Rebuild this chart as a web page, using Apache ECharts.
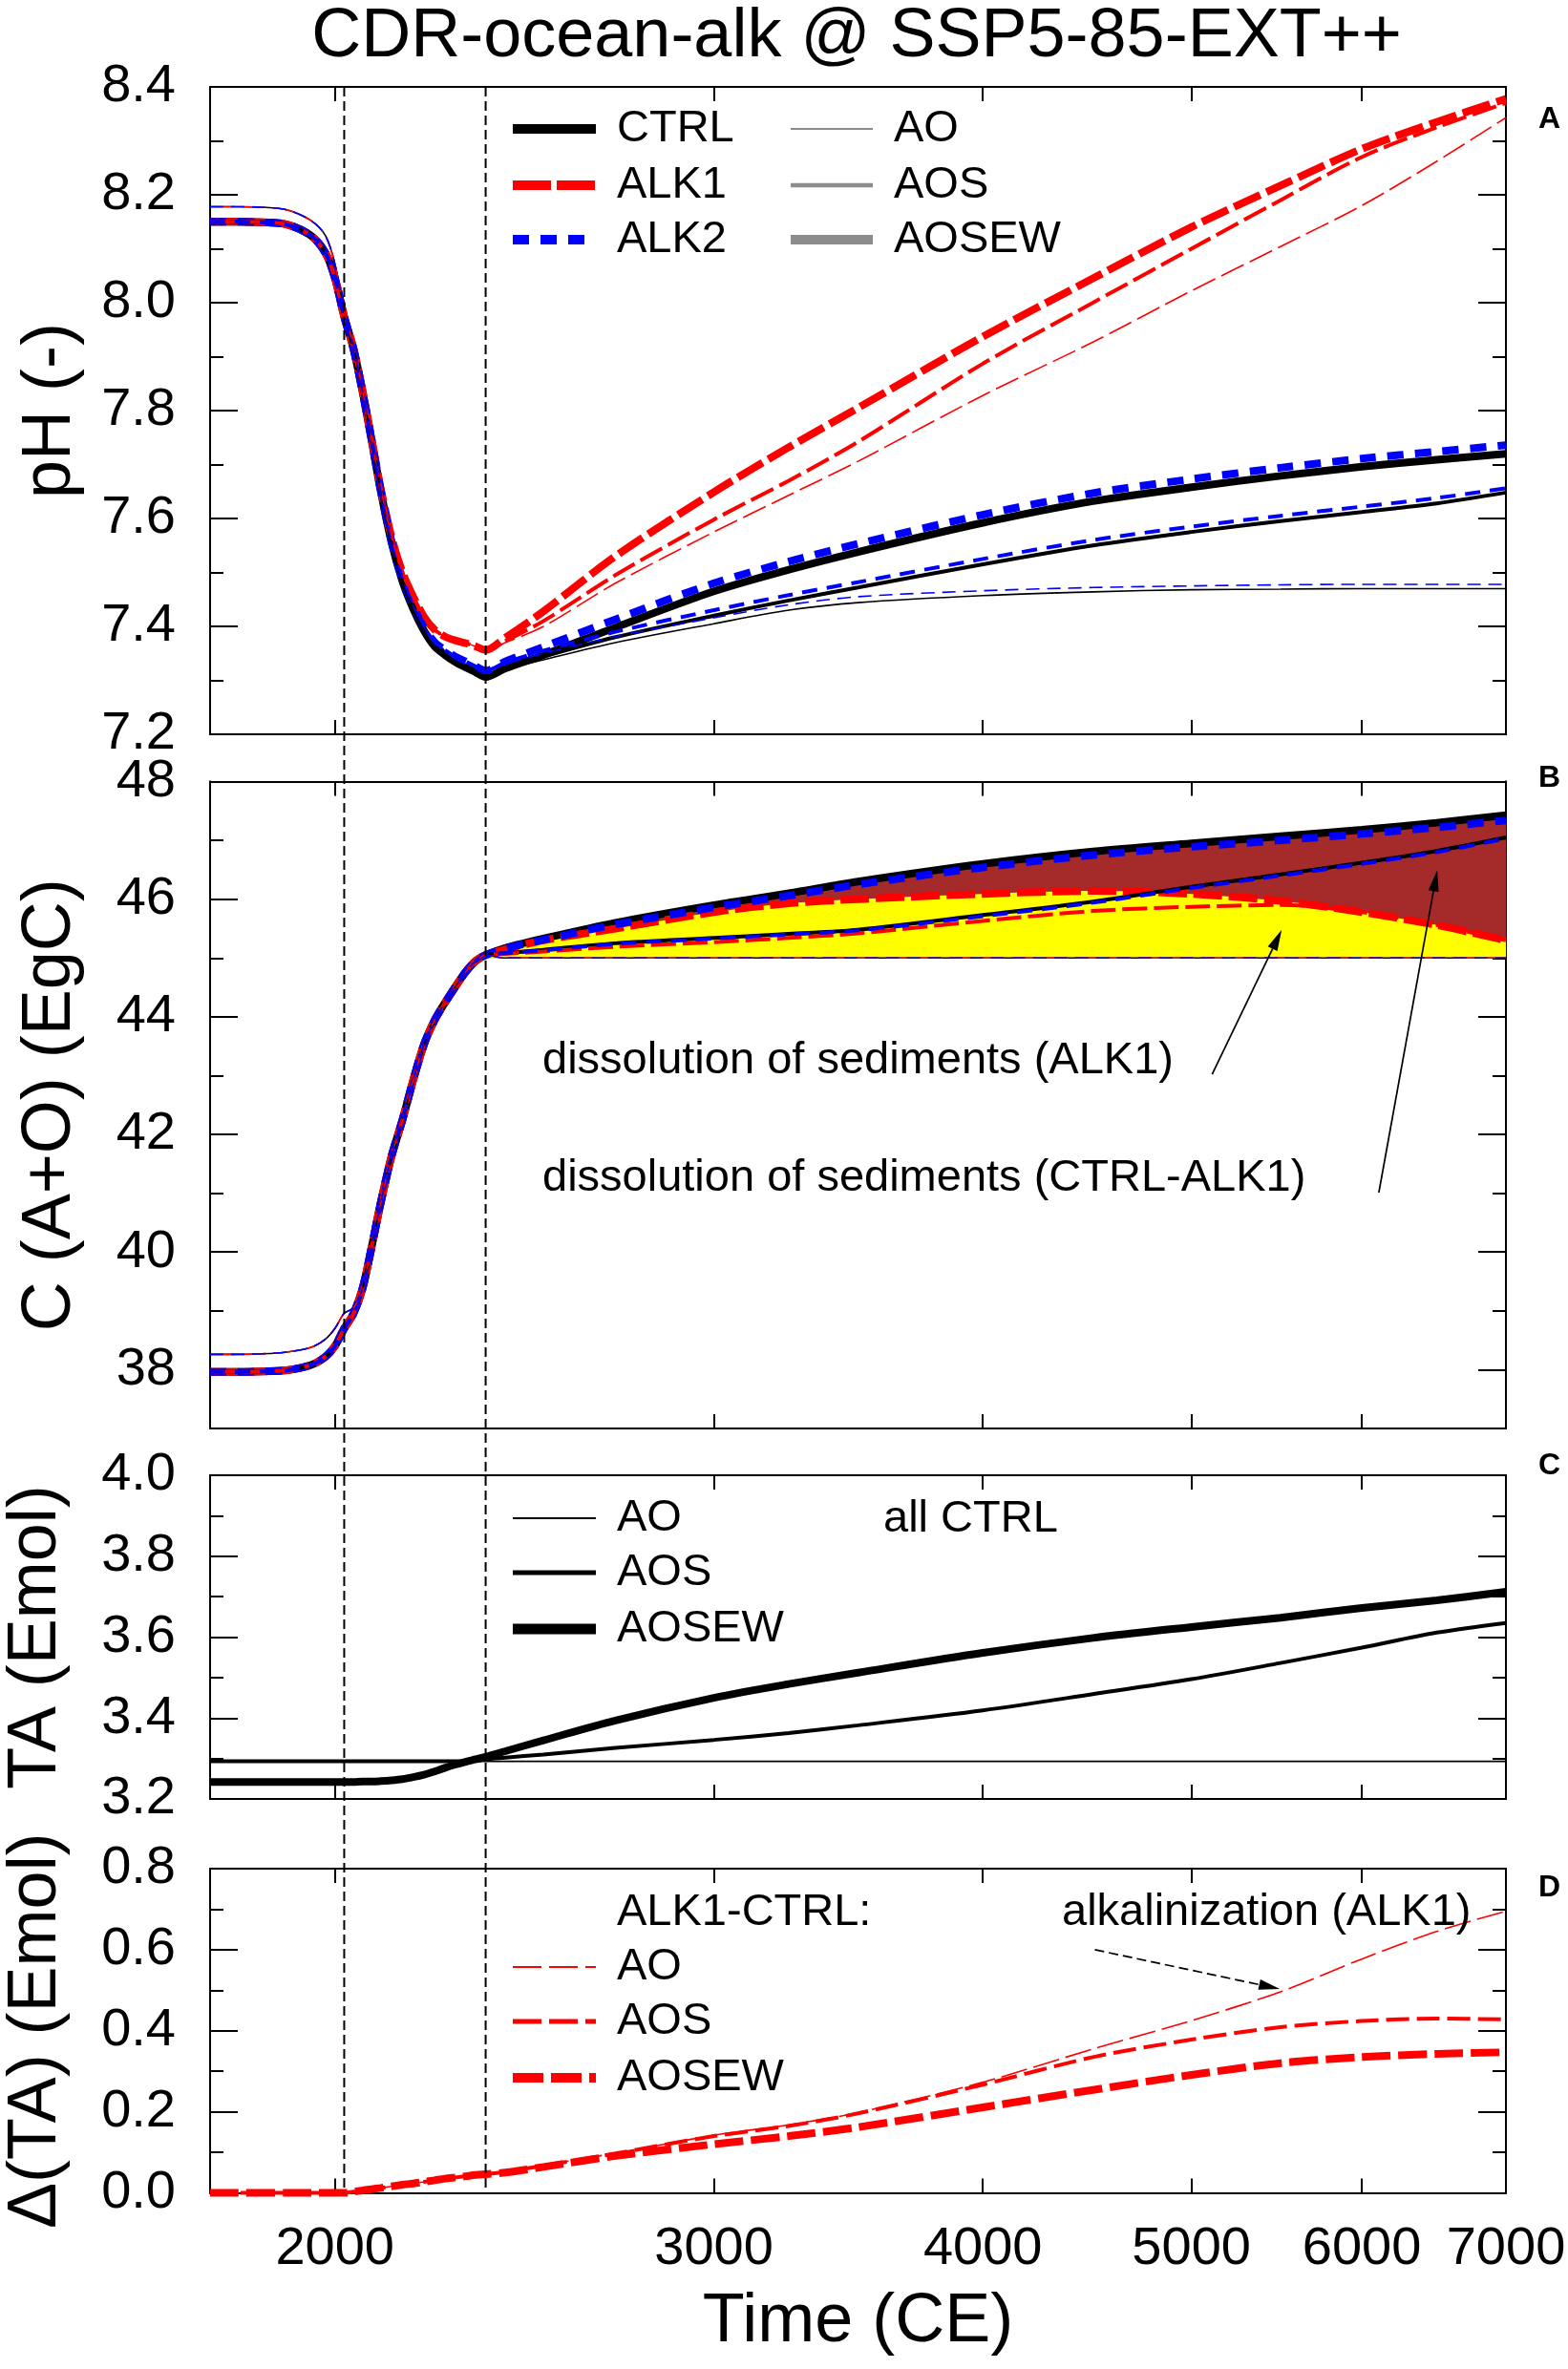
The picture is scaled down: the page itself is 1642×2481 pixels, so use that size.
<!DOCTYPE html>
<html><head><meta charset="utf-8">
<script src="https://cdn.jsdelivr.net/npm/echarts@6/dist/echarts.min.js"></script>
<style>html,body{margin:0;padding:0;background:#fff}#c{width:1642px;height:2481px}</style>
</head><body><div id="c"></div>
<script>
// ---------- DATA ----------
const years = [1750,1800,1850,1900,1950,1980,2000,2020,2040,2060,2080,2100,2125,2150,2175,2200,2225,2250,2275,2300,2325,2350,2400,2500,2700,3000,3250,3500,4000,4500,5000,5500,6000,6500,7000];
const markerYears = [2020, 2350];
const xTickValues = [2000,3000,4000,5000,6000];
const xLabelValues = [2000,3000,4000,5000,6000,7000];

// Panel A: pH
const phCtrlAOSEW = [8.150,8.150,8.149,8.145,8.124,8.092,8.046,7.974,7.915,7.835,7.745,7.653,7.555,7.483,7.432,7.392,7.363,7.347,7.334,7.324,7.315,7.306, 7.322,7.347,7.398,7.465,7.505,7.538,7.592,7.632,7.658,7.679,7.696,7.709,7.720];
const phCtrlAOS   = [8.150,8.150,8.149,8.145,8.124,8.092,8.046,7.974,7.915,7.835,7.745,7.653,7.555,7.483,7.432,7.392,7.363,7.347,7.334,7.324,7.315,7.306, 7.322,7.344,7.380,7.420,7.448,7.472,7.515,7.550,7.575,7.595,7.612,7.628,7.648];
const phCtrlAO    = [8.178,8.178,8.177,8.172,8.152,8.124,8.072,7.985,7.920,7.835,7.745,7.653,7.555,7.483,7.432,7.392,7.363,7.347,7.334,7.324,7.315,7.306, 7.320,7.338,7.370,7.405,7.430,7.444,7.457,7.464,7.468,7.469,7.470,7.470,7.470];
const phAlk1AOSEW = [8.150,8.150,8.149,8.145,8.124,8.092,8.046,7.974,7.916,7.837,7.748,7.658,7.565,7.500,7.455,7.418,7.394,7.381,7.374,7.369,7.363,7.356, 7.379,7.428,7.530,7.649,7.732,7.805,7.937,8.045,8.140,8.217,8.285,8.335,8.378];
const phAlk1AOS   = [8.150,8.150,8.149,8.145,8.124,8.092,8.046,7.974,7.916,7.837,7.748,7.658,7.565,7.500,7.455,7.418,7.394,7.381,7.374,7.369,7.363,7.356, 7.373,7.410,7.495,7.598,7.670,7.742,7.887,8.000,8.100,8.190,8.270,8.325,8.370];
const phAlk1AO    = [8.178,8.178,8.177,8.172,8.152,8.124,8.072,7.985,7.921,7.837,7.748,7.658,7.565,7.500,7.455,7.418,7.394,7.381,7.374,7.369,7.363,7.356, 7.370,7.400,7.480,7.575,7.643,7.706,7.828,7.927,8.022,8.104,8.180,8.262,8.343];
const phAlk2AOSEW = [8.150,8.150,8.149,8.145,8.124,8.092,8.046,7.974,7.915,7.835,7.746,7.654,7.557,7.487,7.437,7.398,7.371,7.356,7.344,7.335,7.326,7.318, 7.335,7.362,7.413,7.480,7.520,7.553,7.607,7.647,7.673,7.694,7.711,7.724,7.736];
const phAlk2AOS   = [8.150,8.150,8.149,8.145,8.124,8.092,8.046,7.974,7.915,7.835,7.746,7.654,7.557,7.487,7.437,7.398,7.371,7.356,7.344,7.335,7.326,7.318, 7.333,7.355,7.390,7.430,7.458,7.482,7.525,7.560,7.585,7.605,7.622,7.638,7.656];
const phAlk2AO    = [8.178,8.178,8.177,8.172,8.152,8.124,8.072,7.985,7.920,7.835,7.746,7.654,7.557,7.487,7.437,7.398,7.371,7.356,7.344,7.335,7.326,7.318, 7.330,7.350,7.381,7.416,7.440,7.455,7.466,7.472,7.475,7.477,7.478,7.478,7.478];

// Panel B: C (A+O) in EgC
const cCtrlAOSEW = [37.96,37.96,37.97,37.99,38.08,38.22,38.40,38.70,38.95,39.38,40.08,40.82,41.63,42.25,42.93,43.53,43.94,44.24,44.51,44.76,44.95,45.05, 45.17,45.33,45.60,45.90,46.10,46.30,46.60,46.81,46.95,47.07,47.18,47.30,47.43];
const cCtrlAOS   = [37.96,37.96,37.97,37.99,38.08,38.22,38.40,38.70,38.95,39.38,40.08,40.82,41.63,42.25,42.93,43.53,43.94,44.24,44.51,44.76,44.95,45.05, 45.08,45.14,45.25,45.34,45.41,45.48,45.73,45.96,46.21,46.42,46.62,46.82,47.05];
const cCtrlAO    = [38.26,38.26,38.27,38.30,38.38,38.52,38.70,38.96,39.05,39.38,40.08,40.82,41.63,42.25,42.93,43.53,43.94,44.24,44.51,44.76,44.95,45.05, 45.00,45.00,45.00,45.00,45.00,45.00,45.00,45.00,45.00,45.00,45.00,45.00,45.00];
const cAlk1AOSEW = [37.96,37.96,37.97,37.99,38.08,38.22,38.40,38.70,38.95,39.38,40.08,40.82,41.63,42.25,42.93,43.53,43.94,44.24,44.51,44.76,44.95,45.05, 45.15,45.30,45.50,45.78,45.93,46.00,46.09,46.14,46.09,45.97,45.78,45.56,45.30];
const cAlk1AOS   = [37.96,37.96,37.97,37.99,38.08,38.22,38.40,38.70,38.95,39.38,40.08,40.82,41.63,42.25,42.93,43.53,43.94,44.24,44.51,44.76,44.95,45.05, 45.07,45.11,45.19,45.27,45.34,45.42,45.63,45.80,45.87,45.90,45.78,45.56,45.30];
const cAlk1AO    = [38.26,38.26,38.27,38.30,38.38,38.52,38.70,38.96,39.05,39.38,40.08,40.82,41.63,42.25,42.93,43.53,43.94,44.24,44.51,44.76,44.95,45.05, 45.00,45.00,45.00,45.00,45.00,45.00,45.00,45.00,45.00,45.00,45.00,45.00,45.00];
const cAlk2AOSEW = [37.96,37.96,37.97,37.99,38.08,38.22,38.40,38.70,38.95,39.38,40.08,40.82,41.63,42.25,42.93,43.53,43.94,44.24,44.51,44.76,44.95,45.05, 45.16,45.31,45.57,45.86,46.06,46.25,46.54,46.75,46.89,47.00,47.11,47.22,47.34];
const cAlk2AOS   = [37.96,37.96,37.97,37.99,38.08,38.22,38.40,38.70,38.95,39.38,40.08,40.82,41.63,42.25,42.93,43.53,43.94,44.24,44.51,44.76,44.95,45.05, 45.08,45.13,45.24,45.33,45.40,45.47,45.71,45.94,46.19,46.40,46.60,46.80,47.03];
const cAlk2AO    = [38.26,38.26,38.27,38.30,38.38,38.52,38.70,38.96,39.05,39.38,40.08,40.82,41.63,42.25,42.93,43.53,43.94,44.24,44.51,44.76,44.95,45.05, 45.00,45.00,45.00,45.00,45.00,45.00,45.00,45.00,45.00,45.00,45.00,45.00,45.00];
const cFillBase = 45.0;
const fillStartIndex = 21; // year 2350

// Panel C: TA (Emol), all CTRL
const taAO    = [3.293,3.293,3.293,3.293,3.293,3.293,3.293,3.293,3.293,3.293,3.293,3.293,3.293,3.293,3.293,3.293,3.293,3.293,3.293,3.293,3.293,3.293, 3.293,3.293,3.293,3.293,3.293,3.293,3.293,3.293,3.293,3.293,3.293,3.293,3.293];
const taAOS   = [3.293,3.293,3.293,3.293,3.293,3.293,3.293,3.293,3.293,3.293,3.293,3.293,3.293,3.293,3.293,3.293,3.293,3.293,3.293,3.293,3.294,3.298, 3.302,3.310,3.326,3.346,3.363,3.382,3.419,3.459,3.496,3.536,3.574,3.611,3.635];
const taAOSEW = [3.242,3.242,3.242,3.242,3.242,3.242,3.242,3.242,3.242,3.243,3.243,3.244,3.246,3.249,3.254,3.260,3.268,3.277,3.285,3.292,3.298,3.304, 3.318,3.345,3.394,3.450,3.484,3.512,3.561,3.598,3.625,3.648,3.672,3.691,3.712];

// Panel D: delta TA (ALK1 - CTRL), Emol
const dtaAO    = [0,0,0,0,0,0,0,0,0.003,0.006,0.009,0.012,0.016,0.020,0.023,0.027,0.031,0.035,0.038,0.041,0.044,0.046, 0.052,0.068,0.098,0.142,0.168,0.198,0.273,0.355,0.425,0.496,0.577,0.645,0.695];
const dtaAOS   = [0,0,0,0,0,0,0,0,0.003,0.006,0.009,0.012,0.016,0.020,0.023,0.027,0.031,0.035,0.038,0.041,0.044,0.046, 0.052,0.067,0.097,0.140,0.165,0.196,0.267,0.335,0.378,0.409,0.424,0.430,0.428];
const dtaAOSEW = [0,0,0,0,0,0,0,0,0.003,0.006,0.009,0.012,0.016,0.020,0.023,0.027,0.031,0.035,0.038,0.041,0.044,0.046, 0.050,0.064,0.091,0.120,0.140,0.162,0.211,0.254,0.291,0.320,0.335,0.343,0.347];

// axis tick / label values
const phMajor = [7.2,7.4,7.6,7.8,8.0,8.2,8.4], phMinor = [7.3,7.5,7.7,7.9,8.1,8.3];
const cMajor = [38,40,42,44,46,48], cMinor = [39,41,43,45,47];
const taMajor = [3.2,3.4,3.6,3.8,4.0], taMinor = [3.3,3.5,3.7,3.9];
const dtaMajor = [0.0,0.2,0.4,0.6,0.8], dtaMinor = [0.1,0.3,0.5,0.7];

// ---------- CHART ----------
const F = '"Liberation Sans", Arial, Helvetica, sans-serif';
const RED = '#ff0000', BLUE = '#0000ff', BLACK = '#000000', GRAY = '#8c8c8c';
const W_THICK = 8, W_MED = 4, W_THIN = 1.6;
const TICK_FONT = 56;

const grids = [
  {left:220, top:91, width:1357, height:678, outerBoundsMode:'none', containLabel:false},
  {left:220, top:818.5, width:1357, height:677.5, outerBoundsMode:'none', containLabel:false},
  {left:220, top:1545, width:1357, height:339, outerBoundsMode:'none', containLabel:false},
  {left:220, top:1957, width:1357, height:339.5, outerBoundsMode:'none', containLabel:false}
];
const panels = [
  {min:7.2, max:8.4, major:phMajor, minor:phMinor, dec:1, name:'pH (-)', gap:131},
  {min:37, max:48, major:cMajor, minor:cMinor, dec:0, name:'C (A+O) (EgC)', gap:131},
  {min:3.2, max:4.0, major:taMajor, minor:taMinor, dec:1, name:'TA (Emol)', gap:146},
  {min:0, max:0.8, major:dtaMajor, minor:dtaMinor, dec:1, name:'\u0394(TA) (Emol)', gap:146}
];

const xAxes = [], yAxes = [];
const axLine = {show:true, onZero:false, lineStyle:{color:BLACK, width:2}};
for (let g = 0; g < 4; g++) {
  const last = g === 3;
  ['bottom','top'].forEach((pos, k) => {
    xAxes.push({
      type:'log', logBase:10, gridIndex:g, position:pos, min:1750, max:7000,
      axisLine:axLine,
      axisTick:{show:true, inside:true, length:15, customValues:xTickValues, lineStyle:{color:BLACK, width:2}},
      minorTick:{show:false}, splitLine:{show:false}, minorSplitLine:{show:false},
      axisLabel:{show:last && k===0, customValues:xLabelValues, margin:31, fontSize:TICK_FONT, color:BLACK, fontFamily:F,
                 formatter:v => String(Math.round(v))},
      name:(last && k===0) ? 'Time (CE)' : '', nameLocation:'middle', nameGap:100,
      nameTextStyle:{fontSize:72, fontFamily:F, color:BLACK}
    });
  });
  const p = panels[g];
  const mk = (pos, ticks, len, showLab, withName) => ({
    type:'value', gridIndex:g, position:pos, min:p.min, max:p.max,
    axisLine:axLine,
    axisTick:{show:true, inside:true, length:len, customValues:ticks, lineStyle:{color:BLACK, width:2}},
    splitLine:{show:false}, minorTick:{show:false},
    axisLabel:{show:showLab, customValues:p.major, margin:36, fontSize:TICK_FONT, color:BLACK, fontFamily:F,
               formatter:v => Number(v).toFixed(p.dec)},
    name: withName ? p.name : '', nameLocation:'middle', nameGap:p.gap,
    nameTextStyle:{fontSize:72, fontFamily:F, color:BLACK}
  });
  yAxes.push(mk('left', p.major, 29, true, true));
  yAxes.push(mk('left', p.minor, 14, false, false));
  yAxes.push(mk('right', p.major, 29, false, false));
  yAxes.push(mk('right', p.minor, 14, false, false));
}

function pairs(ys, from) {
  const out = [];
  for (let i = from || 0; i < years.length; i++) out.push([years[i], ys[i]]);
  return out;
}
function line(g, name, ys, color, width, dash) {
  return {
    type:'line', name, xAxisIndex:2*g, yAxisIndex:4*g, data:pairs(ys),
    showSymbol:false, symbol:'none', smooth:0.3, clip:false, silent:true,
    lineStyle:{color, width, type:dash || 'solid', cap:'butt'}
  };
}
function fill(g, ys, color) {
  return {
    type:'line', xAxisIndex:2*g, yAxisIndex:4*g, data:pairs(ys, fillStartIndex),
    showSymbol:false, symbol:'none', smooth:0.3, silent:true,
    lineStyle:{width:0, opacity:0}, areaStyle:{color, opacity:1, origin:cFillBase}
  };
}
const DR = {thick:[30,7], med:[26,7], thin:[26,7]};
const DB = {thick:[17,12], med:[16,10], thin:[14,8]};
const DD = {thick:[30,8], med:[24,8], thin:[28,7]};

const series = [
  // Panel A
  line(0,'CTRL AOSEW', phCtrlAOSEW, BLACK, W_THICK),
  line(0,'ALK1 AOSEW', phAlk1AOSEW, RED, W_THICK, DR.thick),
  line(0,'ALK2 AOSEW', phAlk2AOSEW, BLUE, W_THICK, DB.thick),
  line(0,'CTRL AOS', phCtrlAOS, BLACK, W_MED),
  line(0,'ALK1 AOS', phAlk1AOS, RED, W_MED, DR.med),
  line(0,'ALK2 AOS', phAlk2AOS, BLUE, W_MED, DB.med),
  line(0,'CTRL AO', phCtrlAO, BLACK, W_THIN),
  line(0,'ALK1 AO', phAlk1AO, RED, W_THIN, DR.thin),
  line(0,'ALK2 AO', phAlk2AO, BLUE, W_THIN, DB.thin),
  // Panel B fills
  fill(1, cCtrlAOSEW, '#a52a2a'),
  fill(1, cAlk1AOSEW, '#ffff00'),
  // Panel B lines
  line(1,'CTRL AOSEW', cCtrlAOSEW, BLACK, W_THICK),
  line(1,'ALK1 AOSEW', cAlk1AOSEW, RED, W_THICK, DR.thick),
  line(1,'ALK2 AOSEW', cAlk2AOSEW, BLUE, W_THICK, DB.thick),
  line(1,'CTRL AOS', cCtrlAOS, BLACK, W_MED),
  line(1,'ALK1 AOS', cAlk1AOS, RED, W_MED, DR.med),
  line(1,'ALK2 AOS', cAlk2AOS, BLUE, W_MED, DB.med),
  line(1,'CTRL AO', cCtrlAO, BLACK, W_THIN),
  line(1,'ALK1 AO', cAlk1AO, RED, W_THIN, DR.thin),
  line(1,'ALK2 AO', cAlk2AO, BLUE, W_THIN, DB.thin),
  // Panel C
  line(2,'AO', taAO, BLACK, W_THIN),
  line(2,'AOS', taAOS, BLACK, W_MED),
  line(2,'AOSEW', taAOSEW, BLACK, W_THICK),
  // Panel D
  line(3,'AO', dtaAO, RED, W_THIN, DD.thin),
  line(3,'AOS', dtaAOS, RED, W_MED, DD.med),
  line(3,'AOSEW', dtaAOSEW, RED, W_THICK, DD.thick)
];

const chart = echarts.init(document.getElementById('c'), null, {renderer:'canvas'});
chart.setOption({
  animation:false,
  backgroundColor:'#ffffff',
  grid:grids, xAxis:xAxes, yAxis:yAxes, series:series
});

// ---------- annotations (legends, texts, arrows) ----------
const px = (g, x, y) => chart.convertToPixel({gridIndex:g}, [x, y]);
const G = [];
const txt = (x, y, s, size, opts) => G.push(Object.assign({type:'text', x, y, z:100,
  style:{text:s, font:(opts && opts.bold ? 'bold ' : '') + size + 'px ' + F, fill:BLACK,
         textAlign:(opts && opts.align) || 'left', textVerticalAlign:'middle'}}));
const seg = (x1, y1, x2, y2, color, width, dash) => G.push({type:'line', z:100,
  shape:{x1, y1, x2, y2}, style:{stroke:color, lineWidth:width, lineDash:dash || null}});
function arrow(a, b, dash) {
  const dx = b[0]-a[0], dy = b[1]-a[1], L = Math.hypot(dx, dy), ux = dx/L, uy = dy/L;
  const hl = 22, hw = 5.5;
  const bx = b[0]-ux*hl, by = b[1]-uy*hl;
  seg(a[0], a[1], bx, by, BLACK, 1.7, dash);
  G.push({type:'polygon', z:100, shape:{points:[[b[0],b[1]],[bx-uy*hw, by+ux*hw],[bx+uy*hw, by-ux*hw]]}, style:{fill:BLACK}});
}

// title
txt(897, 39, 'CDR-ocean-alk @ SSP5-85-EXT++', 72, {align:'center'});
// vertical dashed markers across all panels
markerYears.forEach(yr => {
  const top = px(0, yr, 8.4), bot = px(3, yr, 0);
  seg(top[0], top[1], bot[0], bot[1], BLACK, 2, [10,5]);
});
// panel letters
txt(1611, 125, 'A', 32, {bold:true});
txt(1611, 815, 'B', 32, {bold:true});
txt(1611, 1535, 'C', 32, {bold:true});
txt(1611, 1977, 'D', 32, {bold:true});
// legend panel A
const LX1 = 537, LX2 = 624, TX = 646;
seg(LX1, 135, LX2, 135, BLACK, 10); txt(TX, 135, 'CTRL', 47);
seg(LX1, 194, LX2, 194, RED, 10, [40,6]); txt(TX, 194, 'ALK1', 47);
seg(LX1, 251, LX2, 251, BLUE, 10, [17,12]); txt(TX, 251, 'ALK2', 47);
seg(828, 135, 914, 135, GRAY, 2); txt(936, 135, 'AO', 47);
seg(828, 194, 914, 194, GRAY, 4.5); txt(936, 194, 'AOS', 47);
seg(828, 251, 914, 251, GRAY, 10); txt(936, 251, 'AOSEW', 47);
// panel B annotations
txt(568, 1111, 'dissolution of sediments (ALK1)', 47);
txt(568, 1234, 'dissolution of sediments (CTRL-ALK1)', 47);
arrow(px(1, 5112, 43.02), px(1, 5507, 45.48));
arrow(px(1, 6110, 41.01), px(1, 6504, 46.49));
// legend panel C
seg(LX1, 1590, LX2, 1590, BLACK, 2); txt(TX, 1590, 'AO', 47);
seg(LX1, 1647, LX2, 1647, BLACK, 5); txt(TX, 1647, 'AOS', 47);
seg(LX1, 1706, LX2, 1706, BLACK, 11); txt(TX, 1706, 'AOSEW', 47);
txt(925, 1591, 'all CTRL', 47);
// legend panel D
txt(TX, 2003, 'ALK1-CTRL:', 47);
seg(LX1, 2060, LX2, 2060, RED, 2, [30,8]); txt(TX, 2060, 'AO', 47);
seg(LX1, 2117, LX2, 2117, RED, 5, [30,8]); txt(TX, 2117, 'AOS', 47);
seg(LX1, 2176, LX2, 2176, RED, 10, [32,8]); txt(TX, 2176, 'AOSEW', 47);
txt(1112, 2003, 'alkalinization (ALK1)', 47);
arrow(px(3, 4509, 0.600), px(3, 5496, 0.503), [10,5]);

chart.setOption({graphic:{elements:G}});
</script>
</body></html>
